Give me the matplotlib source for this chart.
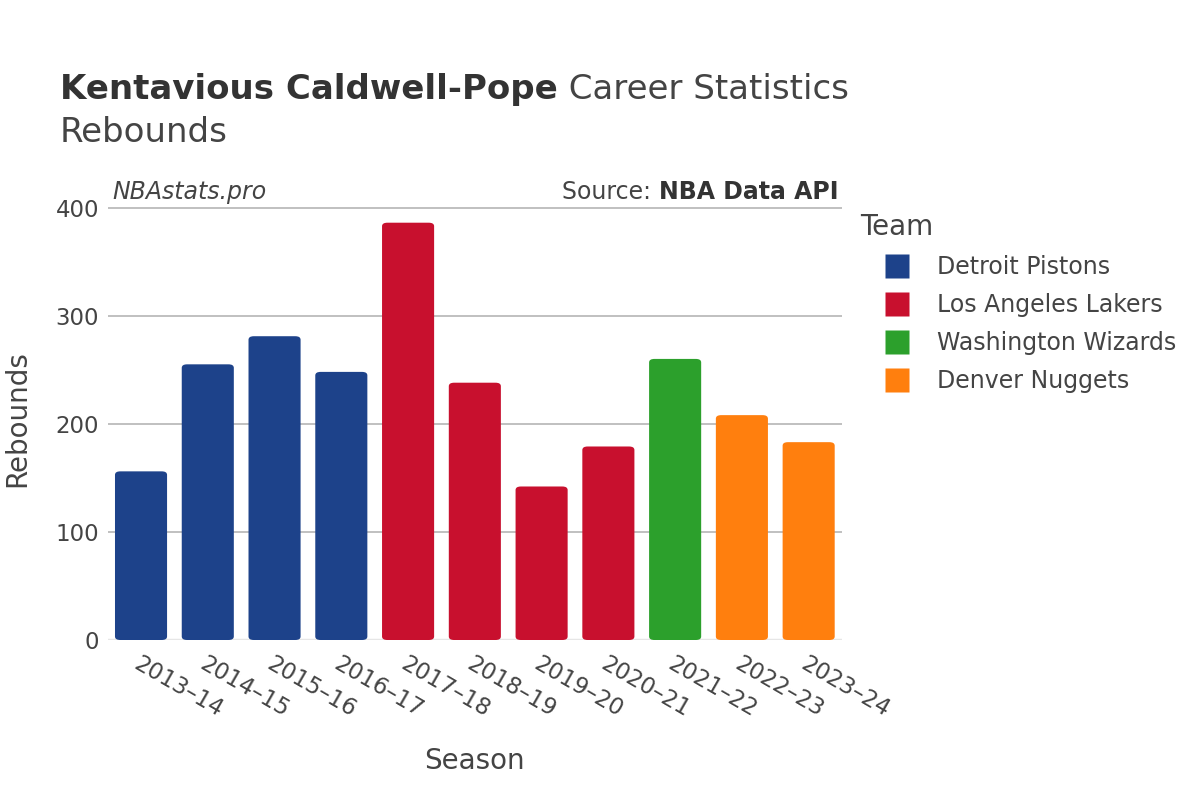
import matplotlib.pyplot as plt
from matplotlib.patches import FancyBboxPatch
from matplotlib.lines import Line2D

# data
seasons = ["2013–14", "2014–15", "2015–16", "2016–17", "2017–18", "2018–19",
           "2019–20", "2020–21", "2021–22", "2022–23", "2023–24"]
rebounds = [156, 255, 281, 248, 386, 238, 142, 179, 260, 208, 183]
teams = ["Detroit Pistons", "Detroit Pistons", "Detroit Pistons", "Detroit Pistons",
         "Los Angeles Lakers", "Los Angeles Lakers", "Los Angeles Lakers", "Los Angeles Lakers",
         "Washington Wizards", "Denver Nuggets", "Denver Nuggets"]
team_order = ["Detroit Pistons", "Los Angeles Lakers", "Washington Wizards", "Denver Nuggets"]
team_colors = {"Detroit Pistons": "#1D428A", "Los Angeles Lakers": "#C8102E",
               "Washington Wizards": "#2CA02C", "Denver Nuggets": "#FF7F0E"}

plt.rcParams["font.family"] = ["DejaVu Sans"]
text_col = "#444444"

fig = plt.figure(figsize=(12, 8), dpi=100)
ax_w = 0.612
ax = fig.add_axes([0.0897, 0.2, ax_w, 0.55])

x = list(range(len(seasons)))
bar_w = 0.78
bars = ax.bar(x, rebounds, width=bar_w, color=[team_colors[t] for t in teams], zorder=3)

# rounded corners
for b in bars:
    b.set_visible(False)
    p = FancyBboxPatch((b.get_x(), 0), b.get_width(), b.get_height(),
                       boxstyle="round,pad=0,rounding_size=0.08",
                       mutation_aspect=40, facecolor=b.get_facecolor(),
                       edgecolor="none", zorder=3)
    ax.add_patch(p)

ax.set_xlim(-0.5, len(seasons) - 0.5)
ax.set_ylim(0, 407)
ax.set_yticks([0, 100, 200, 300, 400])
ax.grid(axis="y", color="#c0c0c0", linewidth=1.4, zorder=0)
ax.axhline(0, color="#e6e6e6", linewidth=2.5, zorder=2)
for s in ax.spines.values():
    s.set_visible(False)
ax.tick_params(axis="both", length=0, labelsize=16.5, labelcolor=text_col)
ax.tick_params(axis="y", pad=6)
ax.set_xticks(x)
ax.set_xticklabels(seasons, rotation=-30, ha="left", rotation_mode="anchor")
ax.tick_params(axis="x", pad=9)

ax.set_xlabel("Season", fontsize=20, color=text_col, labelpad=18)
fig.text(17 / 1200, 0.477, "Rebounds", fontsize=20, color=text_col,
         rotation=90, ha="center", va="center")

# titles
fig.canvas.draw()
r = fig.canvas.get_renderer()
t1 = fig.text(0.05, 0.876, "Kentavious Caldwell-Pope", fontsize=24.5, fontweight="bold",
              color="#333333", va="baseline")
w1 = t1.get_window_extent(r).width / 1200
fig.text(0.05 + w1, 0.876, " Career Statistics", fontsize=24.5, color="#444444",
         va="baseline")
fig.text(0.05, 0.822, "Rebounds", fontsize=24.5, color="#444444", va="baseline")

ax.text(0.006, 0.99, "NBAstats.pro", transform=ax.transAxes, fontsize=17,
        style="italic", color=text_col, va="bottom", ha="left")
s2 = ax.text(0.995, 0.99, "NBA Data API", transform=ax.transAxes, fontsize=17,
             fontweight="bold", color="#333333", va="bottom", ha="right")
w2 = s2.get_window_extent(r).width / (1200 * ax_w)
ax.text(0.995 - w2, 0.99, "Source: ", transform=ax.transAxes, fontsize=17,
        color=text_col, va="bottom", ha="right")

# legend
handles = [Line2D([0], [0], marker="s", linestyle="none", markersize=17,
                  markerfacecolor=team_colors[t], markeredgecolor="none") for t in team_order]
leg = fig.legend(handles, team_order, title="Team", loc="upper left",
                 bbox_to_anchor=(0.709, 0.746), frameon=False, fontsize=17,
                 title_fontsize=20, labelspacing=0.6, handlelength=3.1,
                 handletextpad=0.17, borderaxespad=0)
for t in leg.get_texts():
    t.set_color(text_col)
leg.get_title().set_color(text_col)
leg._legend_box.align = "left"

fig.savefig("out.png", dpi=100)
